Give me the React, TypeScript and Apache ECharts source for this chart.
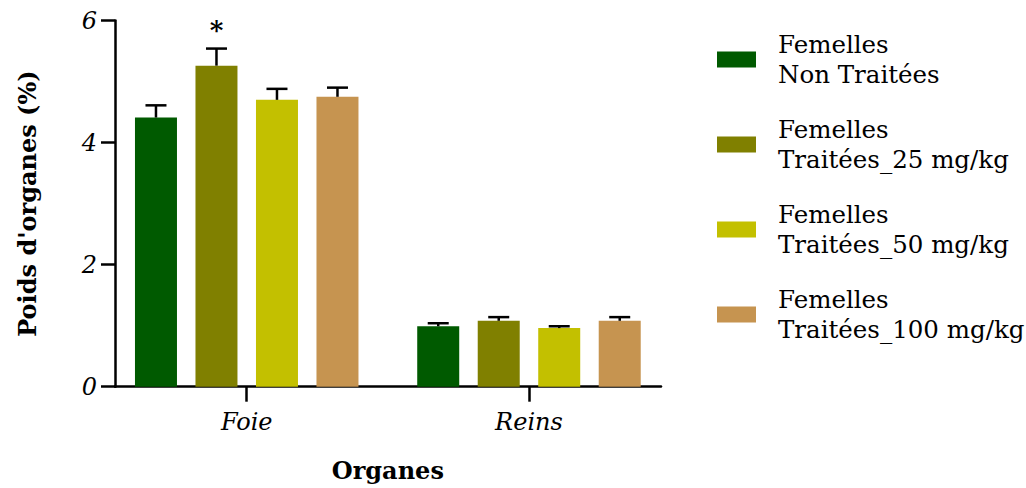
import React, { useEffect, useRef } from "react";
import * as echarts from "echarts";

// Organ weight (% of body weight) per organ and treatment group
const categories = ["Foie", "Reins"];
const groupNames = [
  "Femelles\nNon Traitées",
  "Femelles\nTraitées_25 mg/kg",
  "Femelles\nTraitées_50 mg/kg",
  "Femelles\nTraitées_100 mg/kg",
];
const groupColors = ["#005a00", "#808000", "#c3c000", "#c69450"];

const meansNT = [4.41, 0.99];
const means25 = [5.26, 1.08];
const means50 = [4.7, 0.96];
const means100 = [4.75, 1.08];

const semNT = [0.2, 0.05];
const sem25 = [0.28, 0.06];
const sem50 = [0.18, 0.03];
const sem100 = [0.15, 0.06];

const sigNT = ["", ""];
const sig25 = ["*", ""];
const sig50 = ["", ""];
const sig100 = ["", ""];

const yMin = 0;
const yMax = 6;
const yStep = 2;

const groupMeans = [meansNT, means25, means50, means100];
const groupSem = [semNT, sem25, sem50, sem100];
const groupSig = [sigNT, sig25, sig50, sig100];

const FONT = "DejaVu Serif";
const BAR_W = 42;
const BAR_GAP = 18.5;

export default function App() {
  const ref = useRef<HTMLDivElement>(null);

  useEffect(() => {
    document.body.style.margin = "0";
    const chart = echarts.init(ref.current!, null, { renderer: "svg" });

    const barSeries = groupNames.map((name, g) => ({
      type: "bar",
      name,
      xAxisIndex: 0,
      yAxisIndex: 0,
      data: groupMeans[g],
      barWidth: BAR_W,
      barGap: `${(BAR_GAP / BAR_W) * 100}%`,
      itemStyle: { color: groupColors[g] },
      z: 2,
    }));

    const errSeries = groupNames.map((name, g) => ({
      type: "custom",
      name: name + " SEM",
      xAxisIndex: 0,
      yAxisIndex: 0,
      z: 3,
      silent: true,
      data: categories.map((_, c) => [c, groupMeans[g][c], groupSem[g][c]]),
      renderItem: (params: any, api: any) => {
        const c = api.value(0);
        const m = api.value(1);
        const e = api.value(2);
        const base = api.coord([c, m]);
        const top = api.coord([c, m + e]);
        const dx = (g - 1.5) * (BAR_W + BAR_GAP);
        const x = base[0] + dx;
        const style = { stroke: "#000", lineWidth: 2.5 };
        const children: any[] = [
          { type: "line", shape: { x1: x, y1: base[1], x2: x, y2: top[1] }, style },
          { type: "line", shape: { x1: x - 10.5, y1: top[1], x2: x + 10.5, y2: top[1] }, style },
        ];
        const s = groupSig[g][c];
        if (s) {
          children.push({
            type: "text",
            style: {
              text: s,
              x,
              y: top[1] - 6,
              align: "center",
              verticalAlign: "bottom",
              font: `bold 26px "${FONT}"`,
              fill: "#000",
            },
          });
        }
        return { type: "group", children };
      },
    }));

    chart.setOption({
      animation: false,
      backgroundColor: "#fff",
      textStyle: { fontFamily: FONT, color: "#000" },
      legend: {
        data: groupNames,
        orient: "vertical",
        left: 717,
        top: 29,
        padding: 0,
        itemWidth: 39,
        itemHeight: 16,
        itemGap: 24,
        icon: "rect",
        textStyle: {
          fontFamily: FONT,
          fontSize: 24.5,
          color: "#000",
          lineHeight: 30.5,
          padding: [0, 0, 0, 17],
        },
      },
      grid: [
        { left: 105.6, top: 20.5, width: 564.5, height: 366.2 },
        { left: 115, top: 20.5, width: 546, height: 366.2 },
      ],
      xAxis: [
        {
          type: "category",
          gridIndex: 0,
          data: categories,
          axisLine: { show: false },
          axisTick: {
            show: true,
            alignWithLabel: true,
            length: 15,
            lineStyle: { color: "#000", width: 2.5 },
          },
          axisLabel: {
            color: "#000",
            fontFamily: FONT,
            fontStyle: "italic",
            fontSize: 24,
            margin: 23,
          },
          name: "Organes",
          nameLocation: "middle",
          nameGap: 72,
          nameTextStyle: { fontFamily: FONT, fontWeight: "bold", fontSize: 24, color: "#000" },
        },
        {
          type: "value",
          gridIndex: 1,
          min: 0,
          max: 1,
          axisLine: { show: true, lineStyle: { color: "#000", width: 2.5 } },
          axisTick: { show: false },
          axisLabel: { show: false },
          splitLine: { show: false },
        },
      ],
      yAxis: [
        {
          type: "value",
          gridIndex: 0,
          min: yMin,
          max: yMax,
          interval: yStep,
          offset: -9.4,
          axisLine: { show: true, lineStyle: { color: "#000", width: 2.5 } },
          axisTick: { show: true, length: 14, lineStyle: { color: "#000", width: 2.5 } },
          axisLabel: {
            color: "#000",
            fontFamily: FONT,
            fontStyle: "italic",
            fontSize: 24,
            margin: 18,
          },
          splitLine: { show: false },
          name: "Poids d'organes (%)",
          nameLocation: "middle",
          nameGap: 76,
          nameTextStyle: { fontFamily: FONT, fontWeight: "bold", fontSize: 24, color: "#000" },
        },
        { type: "value", gridIndex: 1, show: false, min: 0, max: 1 },
      ],
      series: [...barSeries, ...errSeries],
    });

    return () => chart.dispose();
  }, []);

  return <div ref={ref} style={{ width: 1026, height: 488 }} />;
}
